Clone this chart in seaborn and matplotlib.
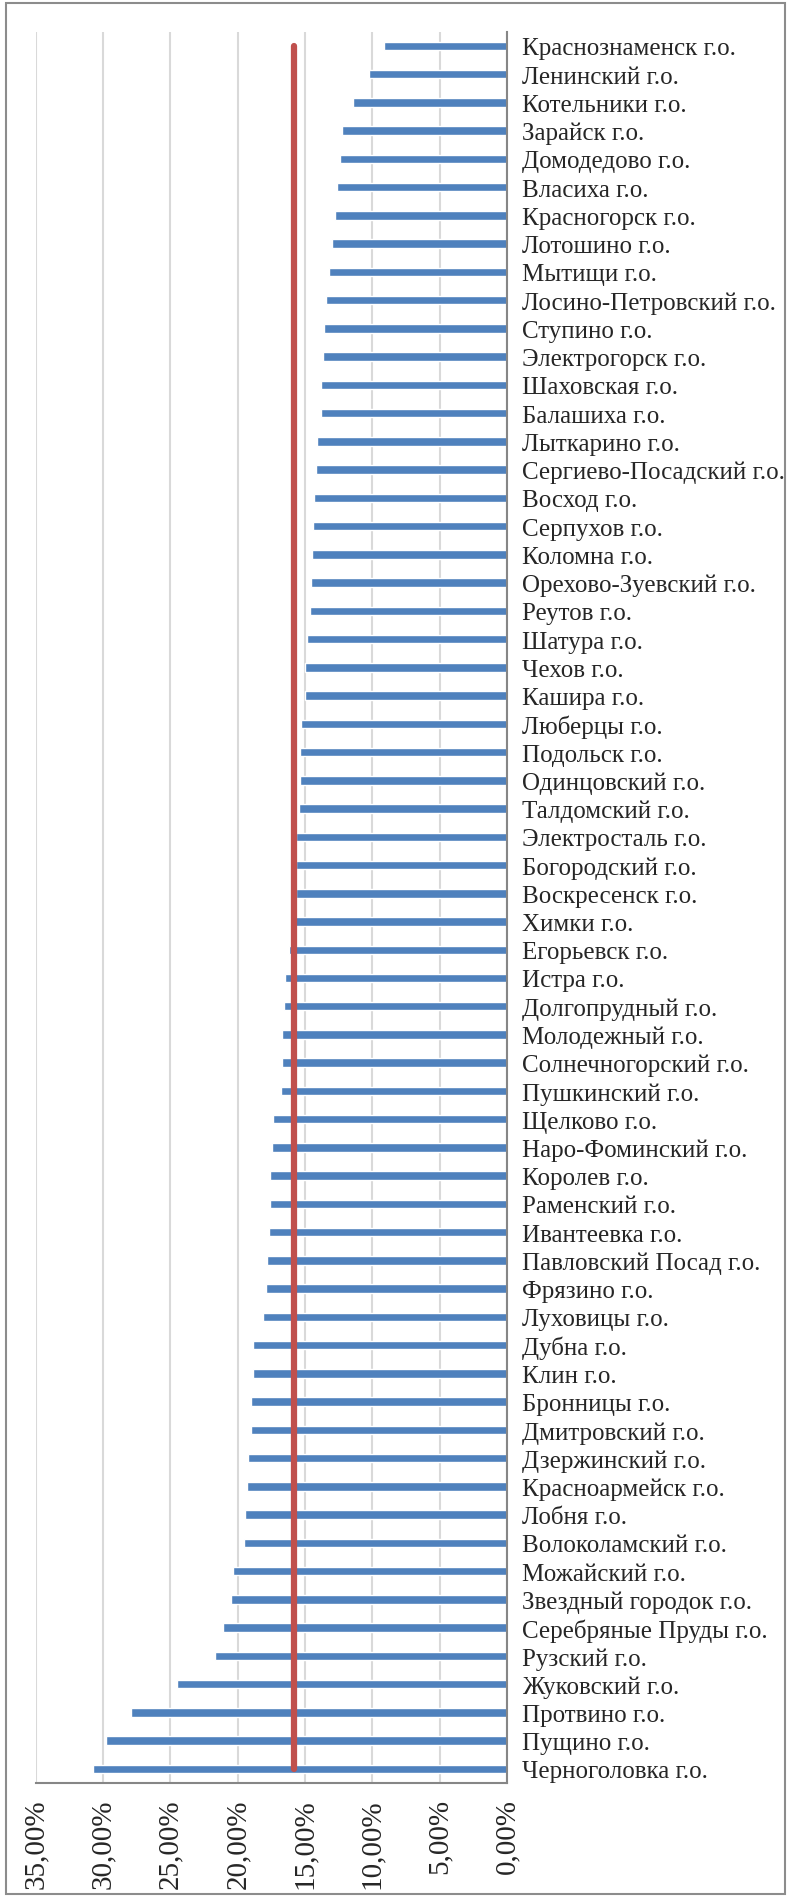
import numpy as np
import seaborn as sns
import matplotlib.pyplot as plt
from matplotlib.patches import Rectangle

# share by district, percent
districts = [
    "Краснознаменск г.о.", "Ленинский г.о.", "Котельники г.о.", "Зарайск г.о.",
    "Домодедово г.о.", "Власиха г.о.", "Красногорск г.о.", "Лотошино г.о.",
    "Мытищи г.о.", "Лосино-Петровский г.о.", "Ступино г.о.", "Электрогорск г.о.",
    "Шаховская г.о.", "Балашиха г.о.", "Лыткарино г.о.", "Сергиево-Посадский г.о.",
    "Восход г.о.", "Серпухов г.о.", "Коломна г.о.", "Орехово-Зуевский г.о.",
    "Реутов г.о.", "Шатура г.о.", "Чехов г.о.", "Кашира г.о.",
    "Люберцы г.о.", "Подольск г.о.", "Одинцовский г.о.", "Талдомский г.о.",
    "Электросталь г.о.", "Богородский г.о.", "Воскресенск г.о.", "Химки г.о.",
    "Егорьевск г.о.", "Истра г.о.", "Долгопрудный г.о.", "Молодежный г.о.",
    "Солнечногорский г.о.", "Пушкинский г.о.", "Щелково г.о.", "Наро-Фоминский г.о.",
    "Королев г.о.", "Раменский г.о.", "Ивантеевка г.о.", "Павловский Посад г.о.",
    "Фрязино г.о.", "Луховицы г.о.", "Дубна г.о.", "Клин г.о.",
    "Бронницы г.о.", "Дмитровский г.о.", "Дзержинский г.о.", "Красноармейск г.о.",
    "Лобня г.о.", "Волоколамский г.о.", "Можайский г.о.", "Звездный городок г.о.",
    "Серебряные Пруды г.о.", "Рузский г.о.", "Жуковский г.о.", "Протвино г.о.",
    "Пущино г.о.", "Черноголовка г.о.",
]
shares = [
    9.16, 10.25, 11.44, 12.28, 12.38, 12.63, 12.80, 12.98,
    13.22, 13.42, 13.62, 13.65, 13.84, 13.84, 14.14, 14.17,
    14.32, 14.39, 14.51, 14.54, 14.59, 14.86, 15.01, 15.01,
    15.30, 15.40, 15.40, 15.45, 15.63, 15.63, 15.65, 16.12,
    16.22, 16.49, 16.54, 16.69, 16.72, 16.79, 17.38, 17.48,
    17.61, 17.63, 17.66, 17.81, 17.93, 18.08, 18.85, 18.89,
    19.00, 19.04, 19.26, 19.32, 19.47, 19.54, 20.33, 20.48,
    21.12, 21.67, 24.54, 27.93, 29.74, 30.73,
]
average_share = 15.82
x_ticks = [0, 5, 10, 15, 20, 25, 30, 35]
x_tick_labels = ["0,00%", "5,00%", "10,00%", "15,00%", "20,00%", "25,00%", "30,00%", "35,00%"]

sns.set_style("white")
plt.rcParams['font.family'] = ['Liberation Serif', 'DejaVu Serif']

fig = plt.figure(figsize=(7.89, 18.99), dpi=100)
ax = fig.add_axes([0.0452, 0.0606, 0.5973, 0.9221])

sns.barplot(x=shares, y=districts, orient='h', color='#4F81BD', saturation=1,
            width=0.3, ax=ax, zorder=2)

# average line across all districts
n = len(districts)
ax.plot(np.full(n, average_share), np.arange(n), color='#C0504D', lw=4.5,
        solid_capstyle='round', zorder=3)

ax.set_xlim(35, 0)
ax.set_ylim(n - 0.5, -0.5)
ax.set_xticks(x_ticks)
ax.set_xticklabels(x_tick_labels, rotation=90, fontsize=21)
ax.xaxis.grid(True, color='#D9D9D9', lw=1.5, zorder=0)
ax.set_axisbelow(True)

ax.yaxis.tick_right()
ax.tick_params(axis='y', length=0, pad=11, labelsize=18)
ax.tick_params(axis='x', length=0, pad=11)
for lbl in ax.get_yticklabels():
    lbl.set_horizontalalignment('left')

for side in ['top', 'left']:
    ax.spines[side].set_visible(False)
for side in ['right', 'bottom']:
    ax.spines[side].set_color('#868686')
    ax.spines[side].set_linewidth(1.5)

ax.set_xlabel("")
ax.set_ylabel("")

# outer chart frame
fig.add_artist(Rectangle((0.007, 0.002), 0.988, 0.996, transform=fig.transFigure,
                         fill=False, edgecolor='#8C8C8C', lw=1.5))

fig.savefig("out.png", dpi=100)
